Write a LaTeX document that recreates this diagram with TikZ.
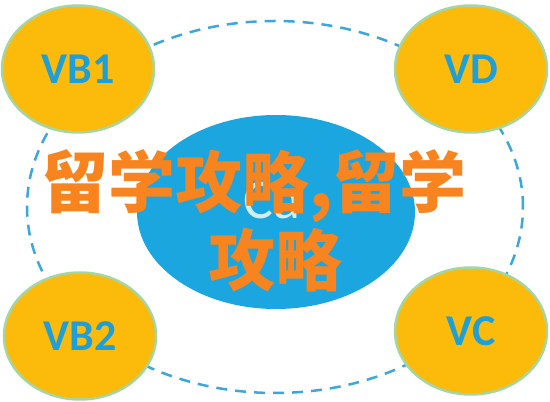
\documentclass[tikz,border=0pt]{standalone}
\usepackage{fontspec}
\setmainfont{Carlito}
\newfontfamily\cjk{Noto Sans CJK SC}
\usetikzlibrary{shapes.geometric, positioning, calc}
\definecolor{gold}{HTML}{FCBA0B}
\definecolor{rim}{HTML}{A6D5A4}
\definecolor{label}{HTML}{1E9FD8}
\definecolor{sky}{HTML}{1BA6E0}
\definecolor{ringline}{HTML}{3BA7DA}
\definecolor{pale}{HTML}{D4ECEA}
\definecolor{tangerine}{HTML}{F7841E}

\begin{document}
\begin{tikzpicture}[x=1pt, y=1pt]
	\tikzstyle{vertex}=[ellipse, minimum width=152pt, minimum height=127pt, fill=gold, draw=rim, line width=2.5pt, text=label, font=\bfseries\fontsize{44}{44}\selectfont];
	\tikzstyle{caption}=[inner sep=0pt, text=tangerine, font=\cjk\bfseries\fontsize{67}{67}\selectfont];

   \useasboundingbox (0,0) rectangle (550,402);
   \node[ellipse, draw=ringline, line width=2.5pt, dash pattern=on 11pt off 8pt] (ring) at (275,195) [minimum width=496pt, minimum height=372pt] {};
   \node[ellipse, fill=sky] (core) at (276,190) [minimum width=278pt, minimum height=194pt] {};
   \node (ca) at (272,201) [text=pale, font=\fontsize{56}{56}\selectfont] {Ca};

   \node (vb1) at (78,333) [vertex] {VB1};
   \node (vd) at (471,333) [vertex] {VD};
   \node (vb2) at (80,66) [vertex] {VB2};
   \node (vc) at (471,71) [vertex] {VC};

   \node (title1) at (254,216) [caption] {留学攻略,留学};
   \node (title2) at (275,142) [caption] {攻略};
\end{tikzpicture}
\end{document}
